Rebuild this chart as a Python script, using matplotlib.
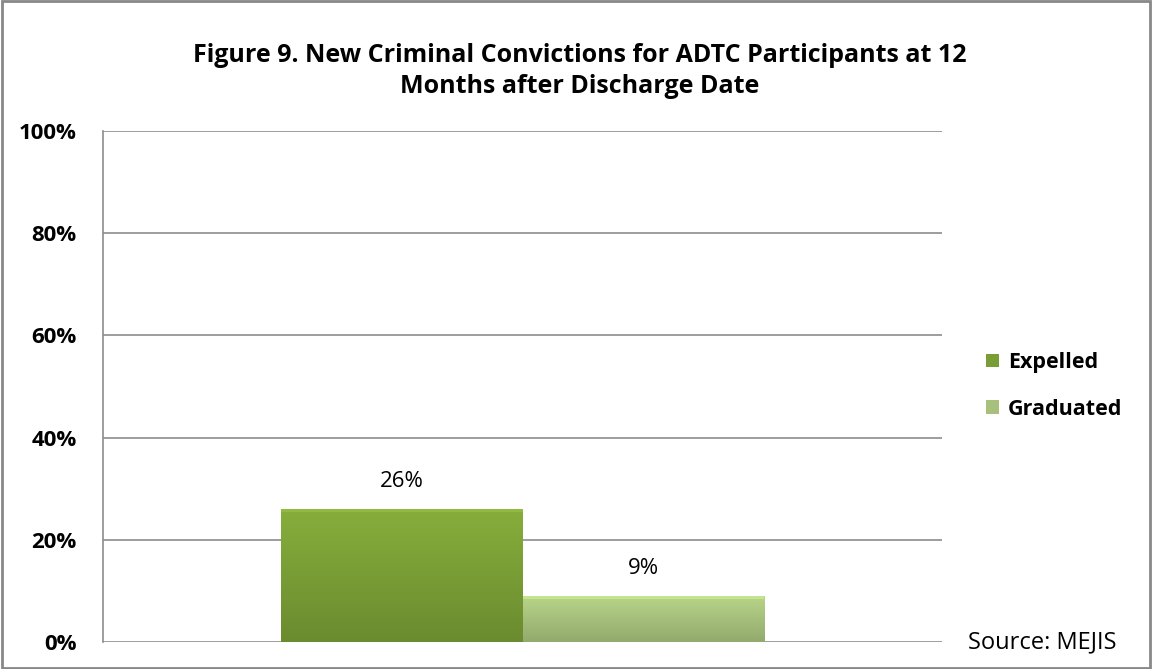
import numpy as np
import matplotlib.pyplot as plt
from matplotlib.patches import Rectangle

plt.rcParams['font.family'] = ['Open Sans', 'DejaVu Sans']

# New criminal convictions at 12 months (percent)
series = ['Expelled', 'Graduated']
values = [26, 9]
colors = ['#7a9e36', '#a7c17c']
yticks = [0, 20, 40, 60, 80, 100]

fig = plt.figure(figsize=(11.52, 6.69), dpi=100)
ax = fig.add_axes([103 / 1152, 27 / 669, 839 / 1152, 511 / 669])

# whole-figure frame
fig.patches.append(Rectangle((0.002, 0.002), 0.996, 0.996, transform=fig.transFigure,
                             fill=False, edgecolor='#888888', linewidth=2))

width = 0.2875
xs = [-width / 2, width / 2]
bars = ax.bar(xs, values, width=width, color=colors, edgecolor='none', zorder=2)


def shade(bar, base):
    # vertical gradient (lighter on top) clipped to the bar
    x0, y0 = bar.get_x(), bar.get_y()
    w, h = bar.get_width(), bar.get_height()
    rgb = np.array(plt.matplotlib.colors.to_rgb(base))
    t = np.linspace(0, 1, 64)[:, None]
    col = np.clip(rgb * (0.88 + 0.22 * t), 0, 1)
    img = np.repeat(col[:, None, :], 4, axis=1)
    im = ax.imshow(img, extent=[x0, x0 + w, y0, y0 + h], origin='lower',
                   aspect='auto', zorder=3, interpolation='bilinear')
    im.set_clip_path(bar)
    # soft highlight along the top edge
    ax.add_patch(Rectangle((x0, y0 + h - 0.6), w, 0.6,
                           color=np.clip(rgb * 1.18, 0, 1), zorder=4, lw=0))


for b, c in zip(bars, colors):
    shade(b, c)

for x, v in zip(xs, values):
    ax.text(x, v + 3.3, f'{v}%', ha='center', va='bottom', fontsize=16, zorder=5)

ax.set_xlim(-0.5, 0.5)
ax.set_ylim(0, 100)
ax.set_yticks(yticks)
ax.set_yticklabels([f'{t}%' for t in yticks], fontsize=16, fontweight='bold')
ax.tick_params(axis='y', length=0, pad=19)
ax.set_xticks([])
ax.grid(axis='y', color='#8c8c8c', linewidth=1.2, zorder=0)
for s in ['top', 'right', 'bottom']:
    ax.spines[s].set_visible(False)
ax.spines['left'].set_color('#8c8c8c')
ax.spines['left'].set_linewidth(1.2)

fig.text(580 / 1152, 1 - 71 / 669,
         'Figure 9. New Criminal Convictions for ADTC Participants at 12\nMonths after Discharge Date',
         ha='center', va='center', fontsize=18, fontweight='bold', linespacing=1.3)

# legend
leg = ax.legend(bars, series, loc='center left', bbox_to_anchor=(1.053, 1 - (386 - 131) / 511),
                frameon=False, prop={'size': 15.5, 'weight': 'bold'},
                handlelength=0.6, handleheight=0.6, handletextpad=0.4, labelspacing=1.2,
                borderaxespad=0, borderpad=0)

fig.text(968 / 1152, 1 - 642 / 669, 'Source: MEJIS', ha='left', va='center', fontsize=17)

fig.savefig('out.png', dpi=100)
